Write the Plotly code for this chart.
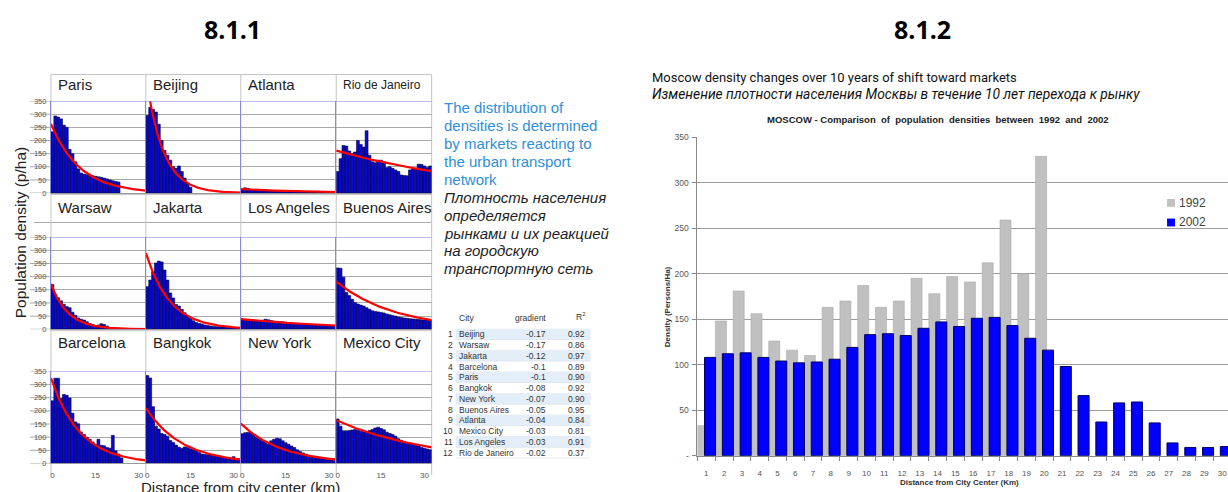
import numpy as np
import plotly.graph_objects as go

W, H = 1228, 492


def px(x):
    return x / W


def py(y):
    return 1 - y / H


# ---------------- 8.1.1 : density profiles of twelve cities ----------------
CITY_ORDER = ["Paris", "Beijing", "Atlanta", "Rio de Janeiro",
              "Warsaw", "Jakarta", "Los Angeles", "Buenos Aires",
              "Barcelona", "Bangkok", "New York", "Mexico City"]

# density (persons/ha) in successive 1 km rings from the centre
PARIS = [233, 293, 289, 282, 258, 250, 166, 150, 119, 92, 76, 72, 70, 68, 66,
         64, 62, 60, 57, 54, 50, 47, 44, 42]
BEIJING = [295, 326, 318, 308, 262, 200, 162, 144, 125, 100, 94, 103, 82, 57,
           38, 22]
ATLANTA = [15, 20, 18, 14, 12, 11, 10, 10, 9, 9, 8, 8, 8, 7, 7, 7, 6, 6, 6, 6,
           5, 5, 5, 5, 5, 4, 4, 4, 4, 4, 4, 4, 4]
RIO = [82, 131, 181, 179, 160, 150, 156, 200, 185, 175, 237, 144, 119, 115,
       125, 125, 119, 97, 100, 94, 88, 82, 69, 67, 66, 88, 92, 94, 110, 109,
       103, 97, 103]
WARSAW = [170, 132, 120, 108, 95, 86, 82, 65, 53, 43, 38, 35, 29, 22, 17, 14,
          16, 21, 18, 12]
JAKARTA = [162, 187, 218, 252, 259, 256, 225, 187, 138, 119, 94, 88, 76, 63,
           51, 41, 32, 26, 22, 20, 16, 14, 12, 11, 10, 10, 9, 9, 8, 8, 8, 7, 7]
LOS_ANGELES = [38, 37, 36, 35, 35, 34, 33, 34, 38, 36, 33, 31, 30, 29, 28, 27,
               26, 25, 24, 23, 22, 21, 20, 19, 18, 18, 17, 16, 16, 15, 15, 14,
               14]
BUENOS_AIRES = [233, 232, 198, 140, 128, 114, 102, 96, 92, 88, 82, 76, 70, 68,
                66, 64, 62, 58, 55, 52, 50, 47, 45, 43, 42, 40, 39, 38, 37, 36,
                35, 35, 34]
BARCELONA = [238, 324, 324, 247, 262, 259, 249, 191, 158, 151, 119, 110, 100,
             92, 82, 73, 92, 69, 67, 61, 58, 107, 48, 36, 21]
BANGKOK = [334, 325, 216, 142, 131, 114, 110, 104, 87, 80, 70, 62, 58, 63, 61,
           56, 52, 48, 42, 36, 34, 33, 32, 31, 30, 28, 25, 22, 21, 20, 26, 19,
           18]
NEW_YORK = [113, 117, 118, 119, 110, 98, 92, 86, 80, 73, 86, 92, 96, 94, 86,
            79, 73, 66, 61, 52, 46, 40, 36, 32, 28, 26, 24, 22, 20, 20, 19, 19,
            18]
MEXICO_CITY = [169, 142, 124, 124, 125, 127, 129, 126, 123, 121, 119, 125, 129,
               135, 138, 133, 128, 119, 114, 110, 104, 94, 88, 84, 80, 78, 76,
               72, 67, 61, 58, 55, 52]

CITY_DENSITY = [PARIS, BEIJING, ATLANTA, RIO, WARSAW, JAKARTA, LOS_ANGELES,
                BUENOS_AIRES, BARCELONA, BANGKOK, NEW_YORK, MEXICO_CITY]

# exponential fit D(x) = D0 * exp(gradient * x)
FIT_D0 = [250, 410, 15, 160, 158, 273, 38, 177, 309, 202, 146, 162]
FIT_GRADIENT = [-0.10, -0.17, -0.04, -0.02, -0.17, -0.12, -0.03, -0.05,
                -0.10, -0.08, -0.07, -0.03]

Y_TICKS = [0, 50, 100, 150, 200, 250, 300, 350]
X_TICKS = [0, 15, 30]

# regression table
TABLE_CITY = ["Beijing", "Warsaw", "Jakarta", "Barcelona", "Paris", "Bangkok",
              "New York", "Buenos Aires", "Atlanta", "Mexico City",
              "Los Angeles", "Rio de Janeiro"]
TABLE_GRADIENT = [-0.17, -0.17, -0.12, -0.1, -0.1, -0.08, -0.07, -0.05, -0.04,
                  -0.03, -0.03, -0.02]
TABLE_R2 = [0.92, 0.86, 0.97, 0.89, 0.90, 0.92, 0.90, 0.95, 0.84, 0.81, 0.91,
            0.37]

BLUE_NOTE = ["The distribution of", "densities is determined",
             "by markets reacting to", "the urban transport", "network"]
RU_NOTE = ["Плотность населения", "определяется", "рынками и их реакцией",
           "на городскую", "транспортную сеть"]

# ---------------- 8.1.2 : Moscow 1992 vs 2002 ----------------
KM = list(range(1, 31))
MOSCOW_1992 = [33, 148, 181, 156, 126, 116, 110, 163, 170, 187, 163, 170, 195,
               178, 197, 191, 212, 259, 200, 329,
               None, None, None, None, None, None, None, None, None, None]
MOSCOW_2002 = [108, 112, 113, 108, 104, 102, 103, 106, 119, 133, 134, 132, 140,
               147, 142, 151, 152, 143, 129, 116, 98, 66, 37, 58, 59, 36, 14,
               9, 9, 10]
MOSCOW_Y_TICKS = [0, 50, 100, 150, 200, 250, 300, 350]
MOSCOW_Y_TEXT = ["-", "50", "100", "150", "200", "250", "300", "350"]

# ---------------------------------------------------------------------------
COL_X = [50, 145, 240, 335.5, 431]             # panel edges (px)
ROW_PLOT = [(98, 192), (237, 331), (374, 468)]  # plot top / bottom (px)
ROW_TITLE_Y = [81.5, 207, 344]
X_RANGE = [-0.5, 32.5]
Y_MAX = 350

GRID = "#a9a9a9"
TEXT = "#222222"
SANS = "Liberation Sans, Arial, sans-serif"

fig = go.Figure()
layout = dict(width=W, height=H, margin=dict(l=0, r=0, t=0, b=0),
              paper_bgcolor="white", plot_bgcolor="rgba(0,0,0,0)",
              showlegend=False, barmode="overlay",
              font=dict(family=SANS, color=TEXT))
shapes, annotations = [], []


def aname(k, letter):
    return f"{letter}axis" if k == 1 else f"{letter}axis{k}"


def aref(k, letter):
    return letter if k == 1 else f"{letter}{k}"


def note(text, x, y, size, color=TEXT, xanchor="center", **kw):
    d = dict(text=text, x=px(x), y=py(y), xref="paper", yref="paper",
             xanchor=xanchor, yanchor="middle", showarrow=False,
             font=dict(size=size, color=color, **kw.pop("font", {})))
    d.update(kw)
    annotations.append(d)


for i, city in enumerate(CITY_ORDER):
    k = i + 1
    row, col = divmod(i, 4)
    top, bot = ROW_PLOT[row]

    layout[aname(k, "x")] = dict(
        domain=[px(COL_X[col]), px(COL_X[col + 1])], range=X_RANGE,
        anchor=aref(k, "y"), showgrid=False, zeroline=False,
        showline=True, linecolor="#9a9a9a", linewidth=1, ticks="",
        tickvals=X_TICKS, showticklabels=(row == 2), ticklabelstandoff=4,
        tickfont=dict(size=8, color="#555"), fixedrange=True)
    layout[aname(k, "y")] = dict(
        domain=[py(bot), py(top)], range=[0, Y_MAX], anchor=aref(k, "x"),
        showgrid=True, gridcolor=GRID, gridwidth=1, zeroline=False,
        showline=True, linecolor="#8a8ad0", linewidth=1, ticks="",
        tickvals=Y_TICKS, showticklabels=(col == 0),
        tickfont=dict(size=7.5, color="#555"), ticklabelstandoff=2,
        fixedrange=True)

    dens = CITY_DENSITY[i]
    fig.add_trace(go.Bar(
        x=list(range(len(dens))), y=dens, width=1,
        xaxis=aref(k, "x"), yaxis=aref(k, "y"),
        marker=dict(color="#0808d0", line=dict(color="#00003a", width=0.6))))

    xs = np.linspace(X_RANGE[0], X_RANGE[1], 160)
    fig.add_trace(go.Scatter(
        x=xs, y=FIT_D0[i] * np.exp(FIT_GRADIENT[i] * xs), mode="lines",
        xaxis=aref(k, "x"), yaxis=aref(k, "y"),
        line=dict(color="#ff0000", width=2.2)))

    note(city, COL_X[col] + 5, ROW_TITLE_Y[row],
         12 if city == "Rio de Janeiro" else 15, xanchor="left")

    if col == 0:
        # gridlines continue under the tick labels
        for v in Y_TICKS:
            shapes.append(dict(type="line", xref="paper", yref=aref(k, "y"),
                               x0=px(29), x1=px(50), y0=v, y1=v,
                               line=dict(color=GRID, width=1), layer="below"))
        shapes.append(dict(type="line", xref="paper", yref=aref(k, "y"),
                           x0=px(COL_X[0]), x1=px(COL_X[-1]), y0=Y_MAX,
                           y1=Y_MAX, line=dict(color="#7c7cd8", width=1)))

# extra grid line above the second row of panels
shapes.append(dict(type="line", xref="paper", yref="paper",
                   x0=px(33), x1=px(COL_X[-1]), y0=py(222), y1=py(222),
                   line=dict(color=GRID, width=1), layer="below"))

# panel frames
for x in COL_X:
    shapes.append(dict(type="line", xref="paper", yref="paper",
                       x0=px(x), x1=px(x), y0=py(71), y1=py(480),
                       line=dict(color="#c4c4c4", width=1), layer="below"))
shapes.append(dict(type="line", xref="paper", yref="paper",
                   x0=px(COL_X[0]), x1=px(COL_X[-1]), y0=py(71), y1=py(71),
                   line=dict(color="#c4c4c4", width=1), layer="below"))
for yb in (193.5, 332.5):
    shapes.append(dict(type="line", xref="paper", yref="paper",
                       x0=px(COL_X[0]), x1=px(COL_X[-1]), y0=py(yb), y1=py(yb),
                       line=dict(color="#c4c4c4", width=1), layer="below"))

note("Population density (p/ha)", 19, 232, 15.5, textangle=-90)
note("Distance from city center (km)", 240, 492, 15)

# side note
for j, line in enumerate(BLUE_NOTE):
    note(line, 441, 105 + 18.2 * j, 15, color="#2f8fd8", xanchor="left")
for j, line in enumerate(RU_NOTE):
    note(f"<i>{line}</i>", 441, 197 + 18 * j, 15, color="#1e1e1e",
         xanchor="left")

# regression table
TAB = dict(size=8.5, color="#333")
note("City", 456, 319, **TAB, xanchor="left")
note("gradient", 547, 319, **TAB, xanchor="right")
note("R<sup>2</sup>", 586, 318, **TAB, xanchor="right")
for j, (c, g, r) in enumerate(zip(TABLE_CITY, TABLE_GRADIENT, TABLE_R2)):
    yc = 336 + 11 * j
    if j % 2 == 0:
        shapes.append(dict(type="rect", xref="paper", yref="paper",
                           x0=px(455), x1=px(590), y0=py(yc - 5.5),
                           y1=py(yc + 5.5), fillcolor="#e3eef9",
                           line=dict(width=0), layer="below"))
    shapes.append(dict(type="line", xref="paper", yref="paper",
                       x0=px(455), x1=px(590), y0=py(yc + 5.5),
                       y1=py(yc + 5.5), line=dict(color="#d6dde6", width=0.6),
                       layer="below"))
    note(str(j + 1), 454, yc, **TAB, xanchor="right")
    note(c, 456.5, yc, **TAB, xanchor="left")
    note(f"{g:g}", 547, yc, **TAB, xanchor="right")
    note(f"{r:.2f}", 586, yc, **TAB, xanchor="right")

# ---------------- Moscow chart ----------------
K = 13
layout[aname(K, "x")] = dict(
    domain=[px(697), 1.0], range=[0.5, 30.33], anchor=aref(K, "y"),
    showgrid=False, zeroline=False, showline=True, linecolor="#888",
    linewidth=1, ticks="", tickvals=KM, tickfont=dict(size=8, color="#555"),
    ticklabelstandoff=10,
    minor=dict(ticks="outside", tick0=0.5, dtick=1, ticklen=4,
               tickcolor="#888", showgrid=False),
    fixedrange=True)
layout[aname(K, "y")] = dict(
    domain=[py(460), py(135)], range=[0, 350], anchor=aref(K, "x"),
    showgrid=True, gridcolor="#9c9c9c", gridwidth=1, zeroline=False,
    showline=True, linecolor="#888", linewidth=1, ticks="outside", ticklen=4,
    tickcolor="#888", tickvals=MOSCOW_Y_TICKS, ticktext=MOSCOW_Y_TEXT,
    tickfont=dict(size=8.5, color="#555"), ticklabelstandoff=2,
    fixedrange=True)

fig.add_trace(go.Bar(
    x=KM, y=MOSCOW_1992, offset=-0.49, width=0.62, name="1992",
    xaxis=aref(K, "x"), yaxis=aref(K, "y"),
    marker=dict(color="#c0c0c0", line=dict(color="#a9a9a9", width=0.6))))
fig.add_trace(go.Bar(
    x=KM, y=MOSCOW_2002, offset=-0.1, width=0.62, name="2002",
    xaxis=aref(K, "x"), yaxis=aref(K, "y"),
    marker=dict(color="#0000ff", line=dict(color="#000060", width=1))))

note("<b>MOSCOW - Comparison  of  population  densities  between  1992  and  2002</b>",
     938, 117, 9.5, color="#222")
note("<b>Density (Persons/Ha)</b>", 667, 308, 8, color="#333", textangle=-90)
note("<b>Distance from City Center (Km)</b>", 959, 487, 8, color="#333")
note("Moscow density changes over 10 years of shift toward markets",
     650, 74, 13, color="#111", xanchor="left", font=dict(family="Roboto"))
note("<i>Изменение плотности населения Москвы в течение 10 лет перехода к рынку</i>",
     650, 90.5, 13.8, color="#111", xanchor="left", font=dict(family="Roboto"))
note("<b>8.1.1</b>", 232, 24, 25, color="#000", font=dict(family="Open Sans"))
note("<b>8.1.2</b>", 922, 24, 25, color="#000", font=dict(family="Open Sans"))

# legend
for label, colour, yc in (("1992", "#c0c0c0", 202), ("2002", "#0000ff", 222)):
    shapes.append(dict(type="rect", xref="paper", yref="paper",
                       x0=px(1167), x1=px(1175), y0=py(yc + 4), y1=py(yc - 4),
                       fillcolor=colour, line=dict(width=0)))
    note(label, 1177, yc, 12, color="#444", xanchor="left")

layout["shapes"] = shapes
layout["annotations"] = annotations
fig.update_layout(**layout)
fig.write_html("out.html")
